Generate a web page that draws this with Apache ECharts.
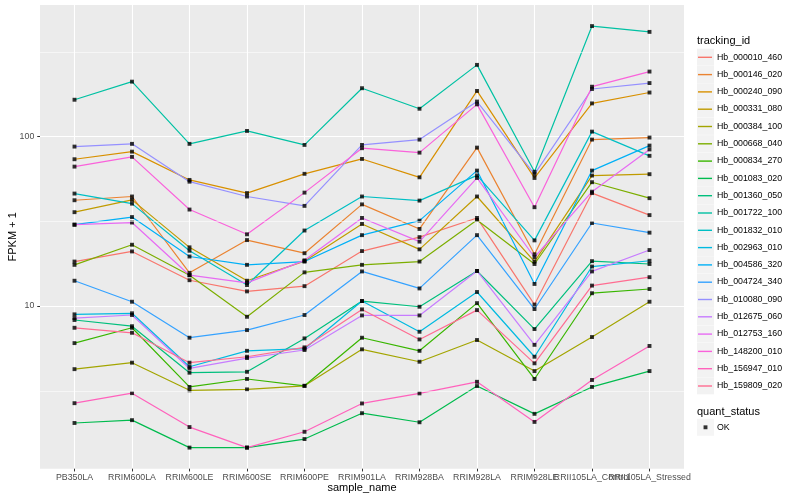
<!DOCTYPE html>
<html><head><meta charset="utf-8">
<script src="https://cdn.jsdelivr.net/npm/echarts@6/dist/echarts.min.js"></script>
<style>html,body{margin:0;padding:0;background:#fff}#c{width:800px;height:500px}</style>
</head><body><div id="c"></div>
<script>
const categories = ['PB350LA','RRIM600LA','RRIM600LE','RRIM600SE','RRIM600PE','RRIM901LA','RRIM928BA','RRIM928LA','RRIM928LE','RRII105LA_Control','RRII105LA_Stressed'];
const trackingIds = ['Hb_000010_460','Hb_000146_020','Hb_000240_090','Hb_000331_080','Hb_000384_100','Hb_000668_040','Hb_000834_270','Hb_001083_020','Hb_001360_050','Hb_001722_100','Hb_001832_010','Hb_002963_010','Hb_004586_320','Hb_004724_340','Hb_010080_090','Hb_012675_060','Hb_012753_160','Hb_148200_010','Hb_156947_010','Hb_159809_020'];

const Hb_000010_460 = [18.3, 21.0, 14.2, 12.2, 13.1, 21.1, 25.5, 33.1, 10.2, 46.4, 34.4];
const Hb_000146_020 = [42.1, 44.3, 15.7, 24.5, 20.5, 39.8, 28.5, 86.1, 20.2, 96, 98.7];
const Hb_000240_090 = [73.5, 81.5, 55.5, 46.4, 60.3, 73.8, 57.5, 186, 57, 157, 182];
const Hb_000331_080 = [35.8, 42.3, 22.2, 14.1, 18.4, 30.5, 21.6, 44.3, 18.3, 58.9, 60];
const Hb_000384_100 = [4.24, 4.63, 3.18, 3.22, 3.38, 5.55, 4.69, 6.3, 4.13, 6.56, 10.6];
const Hb_000668_040 = [17.5, 23.0, 15.2, 8.64, 15.8, 17.5, 18.3, 32.2, 17.7, 53.8, 43.3];
const Hb_000834_270 = [6.04, 7.44, 3.33, 3.71, 3.38, 6.5, 5.44, 10.4, 3.71, 11.9, 12.6];
const Hb_001083_020 = [2.04, 2.12, 1.46, 1.46, 1.64, 2.33, 2.06, 3.37, 2.31, 3.33, 4.13];
const Hb_001360_050 = [8.27, 7.6, 4.04, 4.09, 6.44, 10.7, 9.9, 16.1, 7.31, 18.4, 17.7];
const Hb_001722_100 = [165, 211, 90.6, 108, 89.3, 193, 146, 265, 62, 449, 415];
const Hb_001832_010 = [46.1, 40.2, 21.2, 13.3, 27.9, 44.3, 41.9, 59, 24.4, 107, 77];
const Hb_002963_010 = [8.93, 9.06, 4.38, 5.44, 5.6, 10.7, 7.05, 12.1, 5.02, 17.1, 18.5];
const Hb_004586_320 = [30.2, 33.5, 19.6, 17.5, 18.3, 26.2, 31.9, 63, 13.5, 63, 88.5];
const Hb_004724_340 = [14.1, 10.6, 6.5, 7.21, 8.85, 16.0, 12.7, 26.2, 9.6, 30.9, 27.1];
const Hb_010080_090 = [87.3, 90.6, 54.2, 44.3, 39.0, 89.3, 96, 161, 60, 191, 207];
const Hb_012675_060 = [8.49, 8.85, 4.28, 4.93, 5.5, 8.8, 8.8, 16.1, 5.9, 16.0, 21.4];
const Hb_012753_160 = [30.2, 31.1, 15.2, 13.7, 18.6, 33.1, 24.0, 57, 19.4, 47.3, 84];
const Hb_148200_010 = [66.5, 75.9, 37.1, 26.5, 46.7, 85.4, 80.4, 155, 38.3, 197, 242];
const Hb_156947_010 = [2.67, 3.06, 1.93, 1.46, 1.81, 2.66, 3.05, 3.57, 2.07, 3.66, 5.81];
const Hb_159809_020 = [7.44, 6.95, 4.63, 5.02, 5.7, 9.55, 6.35, 9.46, 4.59, 13.2, 14.8];

const seriesValues = [Hb_000010_460, Hb_000146_020, Hb_000240_090, Hb_000331_080, Hb_000384_100, Hb_000668_040, Hb_000834_270, Hb_001083_020, Hb_001360_050, Hb_001722_100, Hb_001832_010, Hb_002963_010, Hb_004586_320, Hb_004724_340, Hb_010080_090, Hb_012675_060, Hb_012753_160, Hb_148200_010, Hb_156947_010, Hb_159809_020];
const quantStatus = ['OK'];
const yMajorTicks = [10, 100];
const yMinorBreaks = [3.1623, 31.623, 316.23];
const Y_MIN = 1.096, Y_MAX = 598;

const colors = ['#F8766D','#EA8331','#D89000','#C09B00','#A3A500','#7CAE00','#39B600','#00BB4E','#00BF7D','#00C1A3','#00BFC4','#00BAE0','#00B0F6','#35A2FF','#9590FF','#C77CFF','#E76BF3','#FA62DB','#FF62BC','#FF6C91'];

const FONT = '"Liberation Sans", Arial, Helvetica, sans-serif';
const PANEL = {left: 40, top: 5, width: 644, height: 463.7};
const step = PANEL.width / (categories.length - 1 + 1.2);
const dataLeft = PANEL.left + 0.6 * step;
const dataWidth = step * (categories.length - 1);

const chart = echarts.init(document.getElementById('c'), null, {renderer: 'canvas'});

const series = [];
series.push({
  type: 'line', name: '_ticks', xAxisIndex: 2, yAxisIndex: 2,
  data: [[0.5, 10]], symbol: 'none', showSymbol: false, silent: true,
  lineStyle: {width: 0, opacity: 0}, z: 1,
  markLine: {silent: true, symbol: 'none', animation: false, label: {show: false},
    lineStyle: {color: '#333333', width: 1, type: 'solid'},
    data: yMajorTicks.map(v => ({yAxis: v}))}
});
series.push({
  type: 'line', name: '_minor', xAxisIndex: 0, yAxisIndex: 0,
  data: [[0.5, 10]], symbol: 'none', showSymbol: false, silent: true,
  lineStyle: {width: 0, opacity: 0}, z: 1,
  markLine: {silent: true, symbol: 'none', animation: false, label: {show: false},
    lineStyle: {color: '#FFFFFF', width: 0.55, type: 'solid'},
    data: yMinorBreaks.map(v => ({yAxis: v}))}
});
trackingIds.forEach((id, k) => {
  series.push({
    type: 'line', name: id, xAxisIndex: 1, yAxisIndex: 1,
    data: seriesValues[k].map((v, i) => [i, v]),
    symbol: 'none', showSymbol: false, silent: true,
    color: colors[k],
    lineStyle: {width: 1.2, color: colors[k]},
    itemStyle: {color: colors[k]}
  });
});
const points = [];
seriesValues.forEach(vals => vals.forEach((v, i) => points.push([i, v])));
series.push({
  type: 'scatter', name: quantStatus[0], xAxisIndex: 1, yAxisIndex: 1,
  data: points, symbol: 'rect', symbolSize: 3.9, silent: true, z: 3,
  itemStyle: {color: '#000000', borderWidth: 0}
});

const labelBase = {color: '#4D4D4D', fontSize: 8.8, margin: 4.5, fontFamily: FONT,
                   hideOverlap: false, showMinLabel: true, showMaxLabel: true};
const gridBase = {show: false, containLabel: false, outerBoundsMode: 'none'};

const option = {
  animation: false,
  backgroundColor: '#FFFFFF',
  textStyle: {fontFamily: FONT},
  title: [
    {text: 'tracking_id', left: 697, top: 34.2, padding: 0,
     textStyle: {fontSize: 11, fontWeight: 'normal', color: '#000', fontFamily: FONT, lineHeight: 13}},
    {text: 'quant_status', left: 697, top: 405.5, padding: 0,
     textStyle: {fontSize: 11, fontWeight: 'normal', color: '#000', fontFamily: FONT, lineHeight: 13}}
  ],
  grid: [
    Object.assign({}, gridBase, {left: PANEL.left, top: PANEL.top, width: PANEL.width, height: PANEL.height, show: true, backgroundColor: '#EBEBEB', borderWidth: 0}),
    Object.assign({}, gridBase, {left: dataLeft, top: PANEL.top, width: dataWidth, height: PANEL.height}),
    Object.assign({}, gridBase, {left: PANEL.left - 2.75, top: PANEL.top, width: 2.75, height: PANEL.height})
  ],
  xAxis: [
    {gridIndex: 0, type: 'value', min: 0, max: 1, show: false},
    {gridIndex: 1, type: 'value', position: 'bottom', min: 0, max: categories.length - 1, interval: 1,
     name: 'sample_name', nameLocation: 'middle', nameGap: 12.8, nameMoveOverlap: false,
     nameTextStyle: {fontSize: 11, color: '#000', fontFamily: FONT, lineHeight: 13},
     axisLine: {show: false},
     axisTick: {show: true, length: 2.75, lineStyle: {color: '#333333', width: 1}},
     axisLabel: Object.assign({}, labelBase, {formatter: v => (Math.round(v) % 2 === 0 ? categories[Math.round(v)] : '')}),
     splitLine: {show: true, lineStyle: {color: '#FFFFFF', width: 1.1}}},
    {gridIndex: 2, type: 'value', min: 0, max: 1, show: false},
    {gridIndex: 1, type: 'value', position: 'bottom', min: 0, max: categories.length - 1, interval: 1,
     axisLine: {show: false}, axisTick: {show: false}, splitLine: {show: false},
     axisLabel: Object.assign({}, labelBase, {formatter: v => (Math.round(v) % 2 === 1 ? categories[Math.round(v)] : '')})}
  ],
  yAxis: [
    {gridIndex: 0, type: 'log', logBase: 10, min: Y_MIN, max: Y_MAX,
     name: 'FPKM + 1', nameLocation: 'middle', nameRotate: 90, nameGap: 20.5, nameMoveOverlap: false,
     nameTextStyle: {fontSize: 11, color: '#000', fontFamily: FONT, lineHeight: 13},
     axisLine: {show: false}, axisTick: {show: false},
     axisLabel: {showMinLabel: false, showMaxLabel: false, color: '#4D4D4D', fontSize: 8.8, margin: 5.7, fontFamily: FONT},
     splitLine: {show: true, showMinLine: false, showMaxLine: false, lineStyle: {color: '#FFFFFF', width: 1.1}},
     minorSplitLine: {show: false}},
    {gridIndex: 1, type: 'log', logBase: 10, min: Y_MIN, max: Y_MAX, show: false},
    {gridIndex: 2, type: 'log', logBase: 10, min: Y_MIN, max: Y_MAX, show: false}
  ],
  legend: [
    {orient: 'vertical', left: 697, top: 48.65, padding: 0, itemWidth: 17, itemHeight: 17, itemGap: 0.3,
     icon: 'rect', selectedMode: false,
     data: trackingIds.map(n => ({name: n, itemStyle: {color: '#F2F2F2', borderWidth: 0}})),
     textStyle: {fontSize: 8.8, color: '#000', fontFamily: FONT, padding: [0, 0, 0, -2]}},
    {orient: 'vertical', left: 698, top: 48.65, padding: 0, itemWidth: 14, itemHeight: 1.4, itemGap: 0,
     icon: 'rect', selectedMode: false, z: 5,
     data: trackingIds.map(n => ({name: n, itemStyle: {borderWidth: 0}})),
     formatter: () => ' ',
     textStyle: {fontSize: 8.8, lineHeight: 17.3, color: 'rgba(0,0,0,0)'}},
    {orient: 'vertical', left: 697, top: 418.8, padding: 0, itemWidth: 17, itemHeight: 17,
     icon: 'rect', selectedMode: false,
     data: quantStatus.map(n => ({name: n, itemStyle: {color: '#F2F2F2', borderWidth: 0}})),
     textStyle: {fontSize: 8.8, color: '#000', fontFamily: FONT, padding: [0, 0, 0, -2]}},
    {orient: 'vertical', left: 703.55, top: 418.8, padding: 0, itemWidth: 3.9, itemHeight: 3.9,
     icon: 'rect', selectedMode: false, z: 5,
     data: quantStatus.map(n => ({name: n, itemStyle: {color: '#000', borderWidth: 0}})),
     formatter: () => ' ',
     textStyle: {fontSize: 8.8, lineHeight: 17, color: 'rgba(0,0,0,0)'}}
  ],
  series: series
};
chart.setOption(option);
</script>
</body></html>
